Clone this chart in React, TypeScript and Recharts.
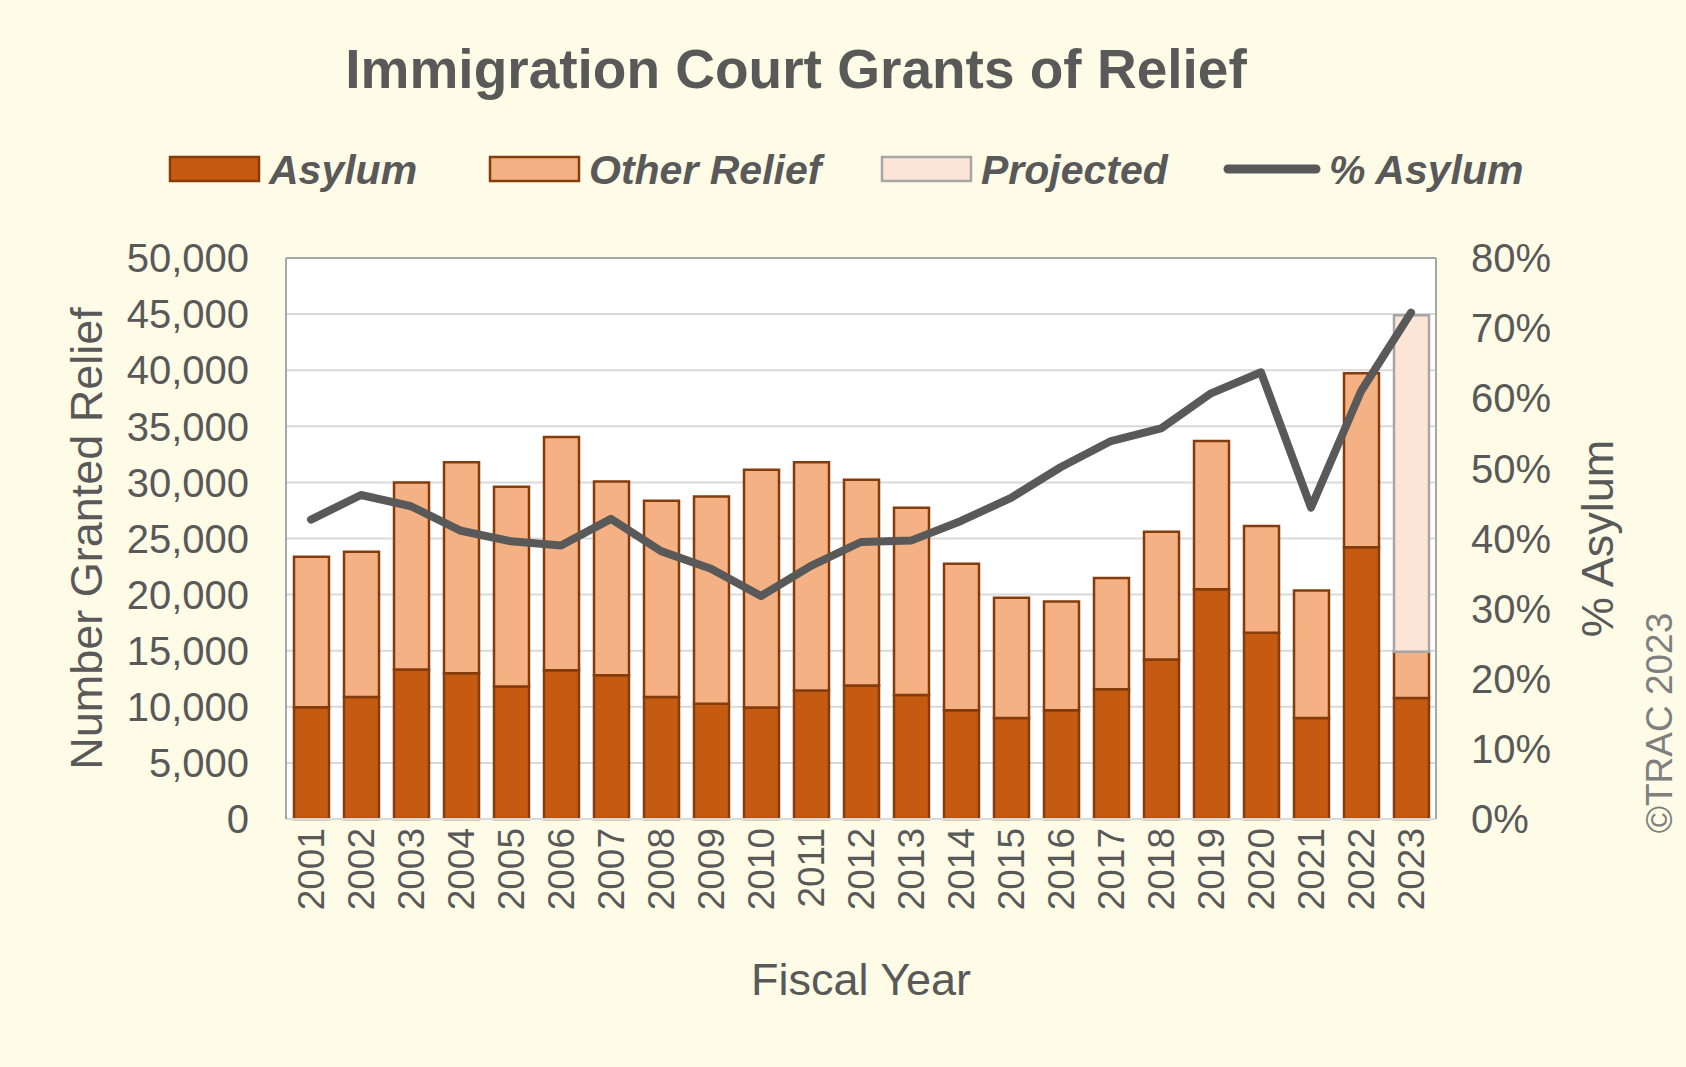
import React from 'react';
import {
  ComposedChart,
  Bar,
  Line,
  XAxis,
  YAxis,
  CartesianGrid,
  Legend,
  ReferenceLine,
} from 'recharts';

const years = [
  '2001', '2002', '2003', '2004', '2005', '2006', '2007', '2008', '2009', '2010', '2011', '2012',
  '2013', '2014', '2015', '2016', '2017', '2018', '2019', '2020', '2021', '2022', '2023',
];
const asylum = [
  9970, 10880, 13330, 12990, 11800, 13260, 12820, 10880, 10270, 9930, 11460, 11900,
  11050, 9690, 9010, 9690, 11560, 14220, 20470, 16600, 9010, 24220, 10780,
];
const otherRelief = [
  13400, 12930, 16670, 18810, 17820, 20780, 17250, 17480, 18470, 21190, 20340, 18340,
  16700, 13060, 10720, 9700, 9930, 11390, 13230, 9520, 11360, 15500, 4120,
];
const projected = [
  null, null, null, null, null, null, null, null, null, null, null, null,
  null, null, null, null, null, null, null, null, null, null, 30000,
];
const pctAsylum = [
  0.427, 0.462, 0.446, 0.411, 0.396, 0.39, 0.428, 0.382, 0.357, 0.318, 0.361, 0.395,
  0.397, 0.425, 0.458, 0.502, 0.539, 0.557, 0.607, 0.637, 0.444, 0.61, 0.722,
];
const leftTicks = [0, 5000, 10000, 15000, 20000, 25000, 30000, 35000, 40000, 45000, 50000];
const rightTicks = [0, 0.1, 0.2, 0.3, 0.4, 0.5, 0.6, 0.7, 0.8];

const data = years.map((year, i) => ({
  year,
  asylum: asylum[i],
  other: otherRelief[i],
  projected: projected[i],
  pct: pctAsylum[i],
}));

const FONT = '"Liberation Sans", Arial, sans-serif';
const GRAY = '#595959';
const BG = '#FEFCE7';

const YearTick = (props: any) => {
  const { x, y, payload } = props;
  return (
    <text
      x={x}
      y={y}
      transform={`rotate(-90, ${x}, ${y})`}
      textAnchor="end"
      dy="0.35em"
      fontSize={37}
      fill={GRAY}
      fontFamily={FONT}
    >
      {payload.value}
    </text>
  );
};

const legendItems = [
  { label: 'Asylum', kind: 'box', fill: '#C55A11', stroke: '#843C0C', x: 170, tx: 269 },
  { label: 'Other Relief', kind: 'box', fill: '#F4B183', stroke: '#843C0C', x: 490, tx: 589 },
  { label: 'Projected', kind: 'box', fill: '#FBE5D6', stroke: '#A6A6A6', x: 882, tx: 981 },
  { label: '% Asylum', kind: 'line', fill: GRAY, stroke: GRAY, x: 1228, tx: 1329 },
];

const LegendContent = () => (
  <svg width={1686} height={70}>
    {legendItems.map((it) =>
      it.kind === 'box' ? (
        <g key={it.label}>
          <rect x={it.x} y={18} width={89} height={24} fill={it.fill} stroke={it.stroke} strokeWidth={2.5} />
          <text x={it.tx} y={45} fontSize={41} fontWeight="bold" fontStyle="italic" fill={GRAY} fontFamily={FONT}>
            {it.label}
          </text>
        </g>
      ) : (
        <g key={it.label}>
          <line x1={it.x} y1={30} x2={it.x + 88} y2={30} stroke={it.stroke} strokeWidth={9} strokeLinecap="round" />
          <text x={it.tx} y={45} fontSize={41} fontWeight="bold" fontStyle="italic" fill={GRAY} fontFamily={FONT}>
            {it.label}
          </text>
        </g>
      )
    )}
  </svg>
);

export default function App() {
  return (
    <div
      style={{
        position: 'absolute',
        left: 0,
        top: 0,
        width: 1686,
        height: 1067,
        background: BG,
        fontFamily: FONT,
      }}
    >
      <ComposedChart
        width={1686}
        height={1067}
        data={data}
        margin={{ top: 258, right: 0, bottom: 48, left: 20 }}
        barSize={35}
      >
        <CartesianGrid vertical={false} stroke="#D9D9D9" strokeWidth={2} fill="#FFFFFF" yAxisId="left" />
        <XAxis
          dataKey="year"
          height={200}
          interval={0}
          tick={<YearTick />}
          tickLine={false}
          tickSize={0}
          tickMargin={9}
          axisLine={{ stroke: '#D9D9D9', strokeWidth: 2 }}
          label={{ value: 'Fiscal Year', position: 'insideBottom', offset: 24, fontSize: 45, fill: GRAY, fontFamily: FONT }}
        />
        <YAxis
          yAxisId="left"
          width={266}
          domain={[0, 50000]}
          ticks={leftTicks}
          tickFormatter={(v: number) => v.toLocaleString('en-US')}
          tick={{ fontSize: 40, fill: GRAY, fontFamily: FONT }}
          tickLine={false}
          tickSize={0}
          tickMargin={37}
          axisLine={{ stroke: '#A6A6A6', strokeWidth: 2 }}
          label={{
            value: 'Number Granted Relief',
            angle: -90,
            position: 'insideLeft',
            offset: 66,
            fontSize: 45,
            fill: GRAY,
            fontFamily: FONT,
            style: { textAnchor: 'middle' },
          }}
        />
        <YAxis
          yAxisId="right"
          orientation="right"
          width={250}
          domain={[0, 0.8]}
          ticks={rightTicks}
          tickFormatter={(v: number) => `${Math.round(v * 100)}%`}
          tick={{ fontSize: 40, fill: GRAY, fontFamily: FONT }}
          tickLine={false}
          tickSize={0}
          tickMargin={35}
          axisLine={{ stroke: '#A6A6A6', strokeWidth: 2 }}
          label={{
            value: '% Asylum',
            angle: -90,
            position: 'insideLeft',
            offset: 161,
            fontSize: 45,
            fill: GRAY,
            fontFamily: FONT,
            style: { textAnchor: 'middle' },
          }}
        />
        <ReferenceLine yAxisId="left" y={50000} stroke="#A6A6A6" strokeWidth={2} />
        <Legend
          layout="horizontal"
          verticalAlign="middle"
          align="center"
          content={<LegendContent />}
          wrapperStyle={{ top: 139, left: 0, width: 1686, height: 70 }}
        />
        <Bar yAxisId="left" dataKey="asylum" stackId="a" fill="#C55A11" stroke="#843C0C" strokeWidth={2.5} isAnimationActive={false} />
        <Bar yAxisId="left" dataKey="other" stackId="a" fill="#F4B183" stroke="#843C0C" strokeWidth={2.5} isAnimationActive={false} />
        <Bar yAxisId="left" dataKey="projected" stackId="a" fill="#FBE5D6" stroke="#A6A6A6" strokeWidth={2.5} isAnimationActive={false} />
        <Line
          yAxisId="right"
          dataKey="pct"
          type="linear"
          stroke={GRAY}
          strokeWidth={8}
          strokeLinecap="round"
          strokeLinejoin="round"
          dot={false}
          activeDot={false}
          isAnimationActive={false}
        />
      </ComposedChart>
      <svg
        width={1686}
        height={1067}
        style={{ position: 'absolute', left: 0, top: 0, pointerEvents: 'none' }}
      >
        <text x={796} y={88} textAnchor="middle" fontSize={55} fontWeight="bold" fill={GRAY} fontFamily={FONT}>
          Immigration Court Grants of Relief
        </text>
        <text
          x={1659}
          y={723}
          transform="rotate(-90, 1659, 723)"
          textAnchor="middle"
          dy="0.35em"
          fontSize={37}
          fill="#7F7F7F"
          fontFamily={FONT}
        >
          ©TRAC 2023
        </text>
      </svg>
    </div>
  );
}
